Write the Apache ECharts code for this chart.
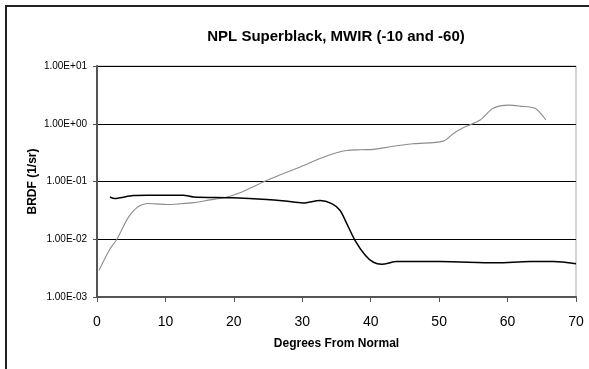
<!DOCTYPE html>
<html>
<head>
<meta charset="utf-8">
<script src="https://cdn.jsdelivr.net/npm/echarts@6/dist/echarts.min.js"></script>
<style>html,body{margin:0;padding:0;background:#fff}#c{width:589px;height:369px}</style>
</head>
<body>
<div id="c"></div>
<script>
var titleText = 'NPL Superblack, MWIR (-10 and -60)';
var xName = 'Degrees From Normal';
var yName = 'BRDF (1/sr)';
var xTicks = [0, 10, 20, 30, 40, 50, 60, 70];
var yTicks = [0.001, 0.01, 0.1, 1, 10];

var grayAngles = [0.3, 1.0, 1.9, 2.9, 3.6, 4.3, 5.0, 5.8, 6.5, 7.3, 8.5, 10.2, 12.0, 14.1, 16.5, 19.0, 20.9, 22.5, 24.8, 26.7, 29.7, 32.6, 35.0, 36.5, 38.5, 40.4, 42.8, 46.2, 50.6, 52.1, 53.3, 56.0, 57.9, 60.2, 61.8, 64.0, 65.6];
var grayValues = [0.0029, 0.0043, 0.0068, 0.010, 0.0145, 0.021, 0.028, 0.035, 0.039, 0.0415, 0.041, 0.040, 0.041, 0.043, 0.048, 0.054, 0.064, 0.078, 0.104, 0.129, 0.179, 0.25, 0.314, 0.345, 0.355, 0.36, 0.40, 0.45, 0.50, 0.68, 0.83, 1.16, 1.85, 2.1, 2.02, 1.85, 1.16];

var blackAngles = [1.9, 2.6, 3.4, 5.3, 7.3, 12.6, 14.1, 19.9, 24.8, 27.5, 30.1, 32.6, 34.3, 35.5, 36.5, 37.7, 39.2, 40.4, 41.6, 43.8, 50.1, 58.4, 63.3, 66.7, 70];
var blackValues = [0.054, 0.0507, 0.0523, 0.057, 0.058, 0.058, 0.054, 0.0523, 0.049, 0.046, 0.0426, 0.047, 0.0415, 0.0318, 0.0187, 0.0096, 0.0053, 0.0040, 0.0037, 0.0041, 0.0041, 0.0039, 0.0041, 0.0041, 0.00378];

function zip(a, b) { return a.map(function (v, i) { return [v, b[i]]; }); }

function fmtExp(v) {
  var e = Math.round(Math.log10(v));
  var m = v / Math.pow(10, e);
  var s = e < 0 ? '-' : '+';
  var ae = Math.abs(e);
  return m.toFixed(2) + 'E' + s + (ae < 10 ? '0' : '') + ae;
}

var chart = echarts.init(document.getElementById('c'), null, {renderer: 'canvas'});
chart.setOption({
  animation: false,
  backgroundColor: '#fff',
  textStyle: {fontFamily: 'Liberation Sans, Arial, sans-serif'},
  title: {
    text: titleText,
    left: 331, top: 24, textAlign: 'center', padding: 5,
    textStyle: {fontSize: 15, fontWeight: 'bold', color: '#000', fontFamily: 'Liberation Sans, Arial, sans-serif'}
  },
  graphic: [{
    type: 'rect', z: -1,
    shape: {x: 6, y: 6, width: 700, height: 500},
    style: {fill: 'none', stroke: '#222', lineWidth: 2}
  }],
  grid: {left: 97, right: 13, top: 66, bottom: 72, show: true, borderColor: '#a8a8a8', borderWidth: 1, backgroundColor: 'transparent'},
  xAxis: {
    type: 'value', min: xTicks[0], max: xTicks[xTicks.length - 1], interval: 10,
    name: xName, nameLocation: 'middle', nameGap: 41, nameMoveOverlap: false,
    nameTextStyle: {fontSize: 12, fontWeight: 'bold', color: '#000'},
    axisLine: {onZero: false, lineStyle: {color: '#555', width: 2}},
    axisTick: {show: true, length: 5, lineStyle: {color: '#555', width: 1}},
    axisLabel: {fontSize: 14, color: '#000', margin: 18},
    splitLine: {show: false}
  },
  yAxis: {
    type: 'log', logBase: 10, min: yTicks[0], max: yTicks[yTicks.length - 1],
    name: yName, nameLocation: 'middle', nameGap: 58, nameRotate: 90, nameMoveOverlap: false,
    nameTextStyle: {fontSize: 12, fontWeight: 'bold', color: '#000'},
    axisLine: {show: true, lineStyle: {color: '#555', width: 2}},
    axisTick: {show: true, length: 4, lineStyle: {color: '#555', width: 1}},
    axisLabel: {fontSize: 10, color: '#000', margin: 10, formatter: fmtExp},
    splitLine: {show: true, lineStyle: {color: '#000', width: 1}}
  },
  series: [
    {type: 'line', data: zip(grayAngles, grayValues), smooth: 0.3, showSymbol: false,
     lineStyle: {color: '#8c8c8c', width: 1.1}},
    {type: 'line', data: zip(blackAngles, blackValues), smooth: 0.3, showSymbol: false,
     lineStyle: {color: '#000', width: 1.5}}
  ]
});
</script>
</body>
</html>
